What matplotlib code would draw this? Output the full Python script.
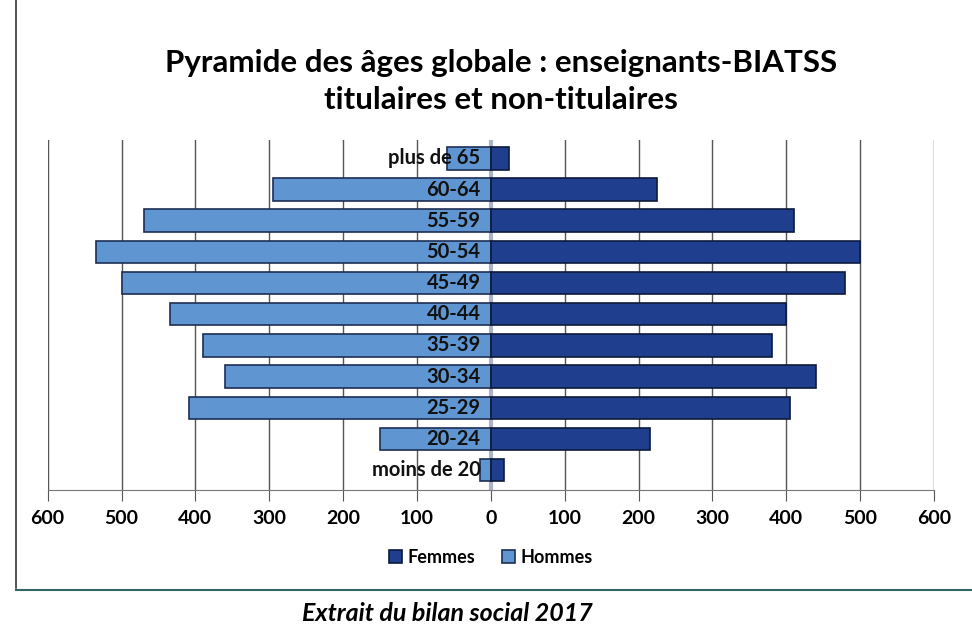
import matplotlib.pyplot as plt
import numpy as np

# tranches d'âge, du bas vers le haut
categories = ["moins de 20", "20-24", "25-29", "30-34", "35-39", "40-44",
              "45-49", "50-54", "55-59", "60-64", "plus de 65"]
hommes = [15, 150, 408, 360, 390, 435, 500, 535, 470, 295, 60]
femmes = [18, 215, 405, 440, 380, 400, 480, 500, 410, 225, 25]
ticks = [-600, -500, -400, -300, -200, -100, 0, 100, 200, 300, 400, 500, 600]

plt.rcParams["font.family"] = ["Lato", "DejaVu Sans"]

fig = plt.figure(figsize=(9.72, 6.26), dpi=100)
ax = fig.add_axes([0.049, 0.217, 0.912, 0.559])

y = np.arange(len(categories))
ax.barh(y, [-h for h in hommes], height=0.72, color="#5f95d0",
        edgecolor="#1d2f55", linewidth=1.2, label="Hommes", zorder=3)
ax.barh(y, femmes, height=0.72, color="#1f3e8e",
        edgecolor="#0d1a3a", linewidth=1.2, label="Femmes", zorder=3)

for yi, cat in zip(y, categories):
    ax.text(-14, yi, cat, ha="right", va="center", fontsize=14.5,
            fontweight="bold", color="#111111", zorder=4)

ax.set_xlim(-600, 600)
ax.set_ylim(-0.64, 10.58)
ax.set_xticks(ticks)
ax.set_xticklabels([str(abs(t)) for t in ticks], fontsize=14, fontweight="bold")
ax.set_yticks([])
ax.grid(axis="x", color="#555555", linewidth=1.0, zorder=0)
ax.tick_params(axis="x", length=8, color="#555555", pad=6)
for side in ["top", "left", "right"]:
    ax.spines[side].set_visible(False)
ax.spines["bottom"].set_color("#777777")
ax.axvline(0, color="#aab4c4", linewidth=3, zorder=2)

handles, labels = ax.get_legend_handles_labels()
fig.legend(handles[::-1], labels[::-1], loc="center", bbox_to_anchor=(0.505, 0.11),
           ncol=2, frameon=False, handlelength=0.7, handleheight=0.7,
           columnspacing=1.5, handletextpad=0.3, prop={"weight": "bold", "size": 13})

fig.text(0.515, 0.90, "Pyramide des âges globale : enseignants-BIATSS",
         ha="center", va="center", fontsize=22.5, fontweight="bold")
fig.text(0.515, 0.84, "titulaires et non-titulaires",
         ha="center", va="center", fontsize=22.5, fontweight="bold")

# cadre du graphique
fig.add_artist(plt.Line2D([0.016, 0.016], [0.06, 1.0], color="#333333", linewidth=1.2))
fig.add_artist(plt.Line2D([0.016, 1.0], [0.057, 0.057], color="#336666", linewidth=1.5))

fig.text(0.46, 0.02, "Extrait du bilan social 2017", ha="center", va="center",
         fontsize=18, fontweight="bold", fontstyle="italic")

fig.savefig("out.png", dpi=100)
